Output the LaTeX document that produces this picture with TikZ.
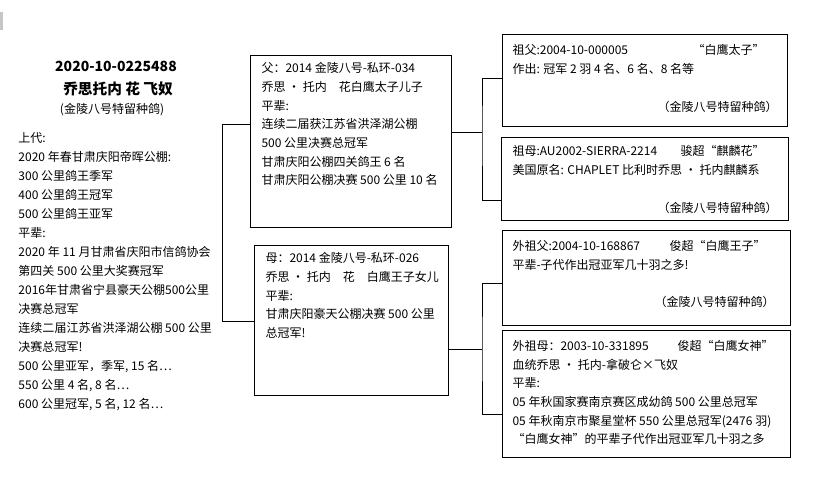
\documentclass[tikz,border=0pt]{standalone}
\usepackage{fontspec}
\setmainfont{Noto Sans CJK SC}
\usetikzlibrary{fit}
\begin{document}
\begin{tikzpicture}[x=0.75pt,y=-0.75pt,line width=0.75pt,
  pbox/.style={draw,inner sep=0pt},
  txt/.style={anchor=north west,inner sep=0pt,align=left,font=\fontsize{9}{14}\selectfont},
  txtl/.style={anchor=north west,inner sep=0pt,align=left,font=\fontsize{9}{14.25}\selectfont},
  nametxt/.style={anchor=north west,inner sep=0pt,font=\fontsize{9}{14}\selectfont},
  studtxt/.style={anchor=north east,inner sep=0pt,font=\fontsize{9}{14}\selectfont},
  conn/.style={draw,line width=0.75pt}]
\useasboundingbox (0,0) rectangle (838,494);
\fill[gray!45] (0,12) rectangle (3,30);

% title
\node[inner sep=0pt,font=\fontsize{10.5}{12}\selectfont\bfseries] (title) at (116,66) {2020-10-0225488};
\node[inner sep=0pt,font=\fontsize{11}{12}\selectfont\bfseries] (pname) at (118,89) {乔思托内 花 飞奴};
\node[inner sep=0pt,font=\fontsize{9}{12}\selectfont] (psub) at (112,110) {(金陵八号特留种鸽)};
\node[txtl] (ptext) at (18,132) {上代:\\
2020 年春甘肃庆阳帝晖公棚:\\
300 公里鸽王季军\\
400 公里鸽王冠军\\
500 公里鸽王亚军\\
平辈:\\
2020 年 11 月甘肃省庆阳市信鸽协会\\
第四关 500 公里大奖赛冠军\\
2016年甘肃省宁县豪天公棚500公里\\
决赛总冠军\\
连续二届江苏省洪泽湖公棚 500 公里\\
决赛总冠军!\\
500 公里亚军，季军, 15 名…\\
550 公里 4 名, 8 名…\\
600 公里冠军, 5 名, 12 名…};

% boxes
\coordinate (f1) at (250,55); \coordinate (f2) at (451,227);
\node[pbox,fit=(f1)(f2)] (father) {};
\coordinate (m1) at (254,245); \coordinate (m2) at (448,395);
\node[pbox,fit=(m1)(m2)] (mother) {};
\coordinate (g1) at (502,34); \coordinate (g2) at (787,126);
\node[pbox,fit=(g1)(g2)] (gf) {};
\coordinate (h1) at (501,137); \coordinate (h2) at (788,220);
\node[pbox,fit=(h1)(h2)] (gm) {};
\coordinate (i1) at (502,230); \coordinate (i2) at (790,325);
\node[pbox,fit=(i1)(i2)] (mgf) {};
\coordinate (j1) at (502,330); \coordinate (j2) at (790,457);
\node[pbox,fit=(j1)(j2)] (mgm) {};

% box texts
\node[txt] (ftext) at (261,62) {父：2014 金陵八号-私环-034\\
乔思 · 托内\quad 花白鹰太子儿子\\
平辈:\\
连续二届获江苏省洪泽湖公棚\\
500 公里决赛总冠军\\
甘肃庆阳公棚四关鸽王 6 名\\
甘肃庆阳公棚决赛 500 公里 10 名};
\node[txt] (mtext) at (265,252) {母：2014 金陵八号-私环-026\\
乔思 · 托内\quad 花\quad 白鹰王子女儿\\
平辈:\\
甘肃庆阳豪天公棚决赛 500 公里\\
总冠军!};

\node[txt] (gftext) at (512,44) {祖父:2004-10-000005\\
作出: 冠军 2 羽 4 名、6 名、8 名等};
\node[nametxt] (gfname) at (692,44) {“白鹰太子”};
\node[studtxt] (gfstud) at (778,101) {（金陵八号特留种鸽）};

\node[txt] (gmtext) at (512,145) {祖母:AU2002-SIERRA-2214\\
美国原名: CHAPLET 比利时乔思 · 托内麒麟系};
\node[nametxt] (gmname) at (680,145) {骏超“麒麟花”};
\node[studtxt] (gmstud) at (778,202) {（金陵八号特留种鸽）};

\node[txt] (mgftext) at (512,240) {外祖父:2004-10-168867\\
平辈-子代作出冠亚军几十羽之多!};
\node[nametxt] (mgfname) at (669,240) {俊超“白鹰王子”};
\node[studtxt] (mgfstud) at (775,296) {（金陵八号特留种鸽）};

\node[txt] (mgmtext) at (512,340) {外祖母：2003-10-331895\\
血统乔思 · 托内-拿破仑×飞奴\\
平辈:\\
05 年秋国家赛南京赛区成幼鸽 500 公里总冠军\\
05 年秋南京市聚星堂杯 550 公里总冠军(2476 羽)\\
“白鹰女神”的平辈子代作出冠亚军几十羽之多};
\node[nametxt] (mgmname) at (677,340) {俊超“白鹰女神”};

% connectors
\coordinate (jl) at (222,124);
\coordinate (jf) at (482,132);
\coordinate (jm) at (482,349);
\draw[conn] (father.west |- jl) -- (jl) |- (mother.west |- 0,321);
\draw[conn] (father.east |- jf) -- (jf);
\draw[conn] (gf.west |- 0,78) -| (jf) |- (gm.west |- 0,200);
\draw[conn] (mother.east |- jm) -- (jm);
\draw[conn] (mgf.west |- 0,283) -| (jm) |- (mgm.west |- 0,414);
\end{tikzpicture}
\end{document}
